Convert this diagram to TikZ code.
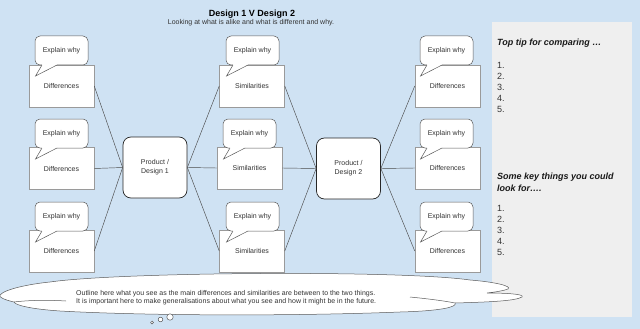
\documentclass[tikz,border=0pt]{standalone}
\usepackage{fontspec}
\setmainfont{Liberation Sans}
\definecolor{bg}{HTML}{CFE2F3}
\definecolor{panel}{HTML}{EFEFEF}
\definecolor{boxline}{HTML}{9A9A9A}
\definecolor{bubline}{HTML}{5A5A5A}
\definecolor{linec}{HTML}{4A4A4A}
\definecolor{txt}{HTML}{333333}
\newcommand\speechbub[3]{%
  \draw[bubst, rounded corners=5pt] (#1,#2) rectangle (#1+53,#2+29);
  \fill[white] (#1+7.4,#2+28.4) rectangle (#1+21.6,#2+29.5);
  \draw[bubst] (#1+7,#2+29) -- (#1+0.5,#2+40) -- (#1+22,#2+29);
  \node[bubtext] (#3) at (#1+26.5,#2+14.5) {Explain why};
}
\begin{document}
\begin{tikzpicture}[x=1pt,y=-1pt,
  dbox/.style={draw=boxline, fill=white, line width=0.5pt, minimum width=65pt, minimum height=42pt, inner sep=0pt, font=\fontsize{7}{8}\selectfont, text=txt},
  prod/.style={draw=black!85, fill=white, rounded corners=8pt, line width=0.7pt, minimum width=64pt, minimum height=61pt, inner sep=0pt, align=center, font=\fontsize{7}{9}\selectfont, text=txt},
  link/.style={draw=linec, line width=0.45pt},
  bubst/.style={draw=bubline, fill=white, line width=0.5pt},
  bubtext/.style={font=\fontsize{7}{8}\selectfont, text=txt, inner sep=0pt},
  paneltext/.style={anchor=base west, inner sep=0pt, font=\fontsize{9}{11}\selectfont, text=txt},
  panelhead/.style={anchor=base west, inner sep=0pt, font=\fontsize{9}{11}\selectfont\bfseries\itshape, text=black!90},
]
\useasboundingbox (0,0) rectangle (640,329);
\fill[bg] (0,0) rectangle (640,329);
% panel
\fill[panel] (492,22) rectangle (632,317);
% title
\node[anchor=base, inner sep=0pt, font=\fontsize{9}{11}\selectfont\bfseries] (title) at (252,16.5) {Design 1 V Design 2};
\node[anchor=base, inner sep=0pt, font=\fontsize{7}{8}\selectfont, text=txt] (subtitle) at (251,24.5) {Looking at what is alike and what is different and why.};
% boxes
\node[dbox] (L1) at (61.5,86) {Differences};
\node[dbox] (L2) at (61.5,168.5) {Differences};
\node[dbox] (L3) at (61.5,251) {Differences};
\node[dbox] (M1) at (252,86) {Similarities};
\node[dbox] (M2) at (249.5,168) {Similarities};
\node[dbox] (M3) at (252,251) {Similarities};
\node[dbox] (R1) at (447.5,86) {Differences};
\node[dbox] (R2) at (447.5,168) {Differences};
\node[dbox] (R3) at (447.5,251) {Differences};
\node[prod] (P1) at (155,167.5) {Product /\\Design 1};
\node[prod] (P2) at (348.5,168.5) {Product /\\Design 2};
% connectors
\foreach \b in {L1,L2,L3} \draw[link] (\b.east) -- (P1.west);
\foreach \b in {M1,M2,M3} \draw[link] (P1.east) -- (\b.west);
\foreach \b in {M1,M2,M3} \draw[link] (\b.east) -- (P2.west);
\foreach \b in {R1,R2,R3} \draw[link] (P2.east) -- (\b.west);
% speech bubbles
\speechbub{35}{36}{BL1}
\speechbub{35}{119}{BL2}
\speechbub{35}{202}{BL3}
\speechbub{226}{36}{BM1}
\speechbub{223}{119}{BM2}
\speechbub{226}{202}{BM3}
\speechbub{420}{36}{BR1}
\speechbub{420}{119}{BR2}
\speechbub{420}{202}{BR3}
% panel text
\node[panelhead] (h1) at (497,46) {Top tip for comparing …};
\foreach \i/\yy in {1/69,2/80,3/91,4/102,5/113} \node[paneltext] (ta\i) at (497,\yy) {\i.};
\node[panelhead] (h2a) at (497,179) {Some key things you could};
\node[panelhead] (h2b) at (497,191) {look for….};
\foreach \i/\yy in {1/211,2/222,3/233,4/244,5/255} \node[paneltext] (tb\i) at (497,\yy) {\i.};
% cloud
\draw[draw=bubline, fill=white, line width=0.5pt]
  (50,282) .. controls (120,272) and (400,270) .. (470,280)
  .. controls (495,282) and (512,286) .. (508,289)
  .. controls (503,291) and (495,292) .. (487,293)
  .. controls (505,293) and (525,294) .. (522,297)
  .. controls (515,301) and (490,302) .. (455,303)
  .. controls (458,307) and (440,311) .. (400,312)
  .. controls (300,316) and (150,316) .. (60,311)
  .. controls (30,309) and (15,305) .. (14,302)
  .. controls (5,300) and (-2,297) .. (0,295)
  .. controls (5,289) and (30,284) .. (50,282) -- cycle;
\draw[draw=bubline, line width=0.5pt] (410,297) .. controls (430,299) and (445,301) .. (455,303);
\draw[draw=bubline, line width=0.5pt] (14,302) .. controls (30,300) and (50,300) .. (66,301);
\draw[draw=bubline, fill=white, line width=0.5pt] (152,322.5) circle (1.4);
\draw[draw=bubline, fill=white, line width=0.5pt] (160.5,319.5) circle (2.3);
\draw[draw=bubline, fill=white, line width=0.5pt] (170,317) circle (3.2);
\node[anchor=base west, inner sep=0pt, font=\fontsize{7}{8}\selectfont, text=txt] (c1) at (76,295) {Outline here what you see as the main differences and similarities are between to the two things.};
\node[anchor=base west, inner sep=0pt, font=\fontsize{7}{8}\selectfont, text=txt] (c2) at (76,303.5) {It is important here to make generalisations about what you see and how it might be in the future.};
\end{tikzpicture}
\end{document}
